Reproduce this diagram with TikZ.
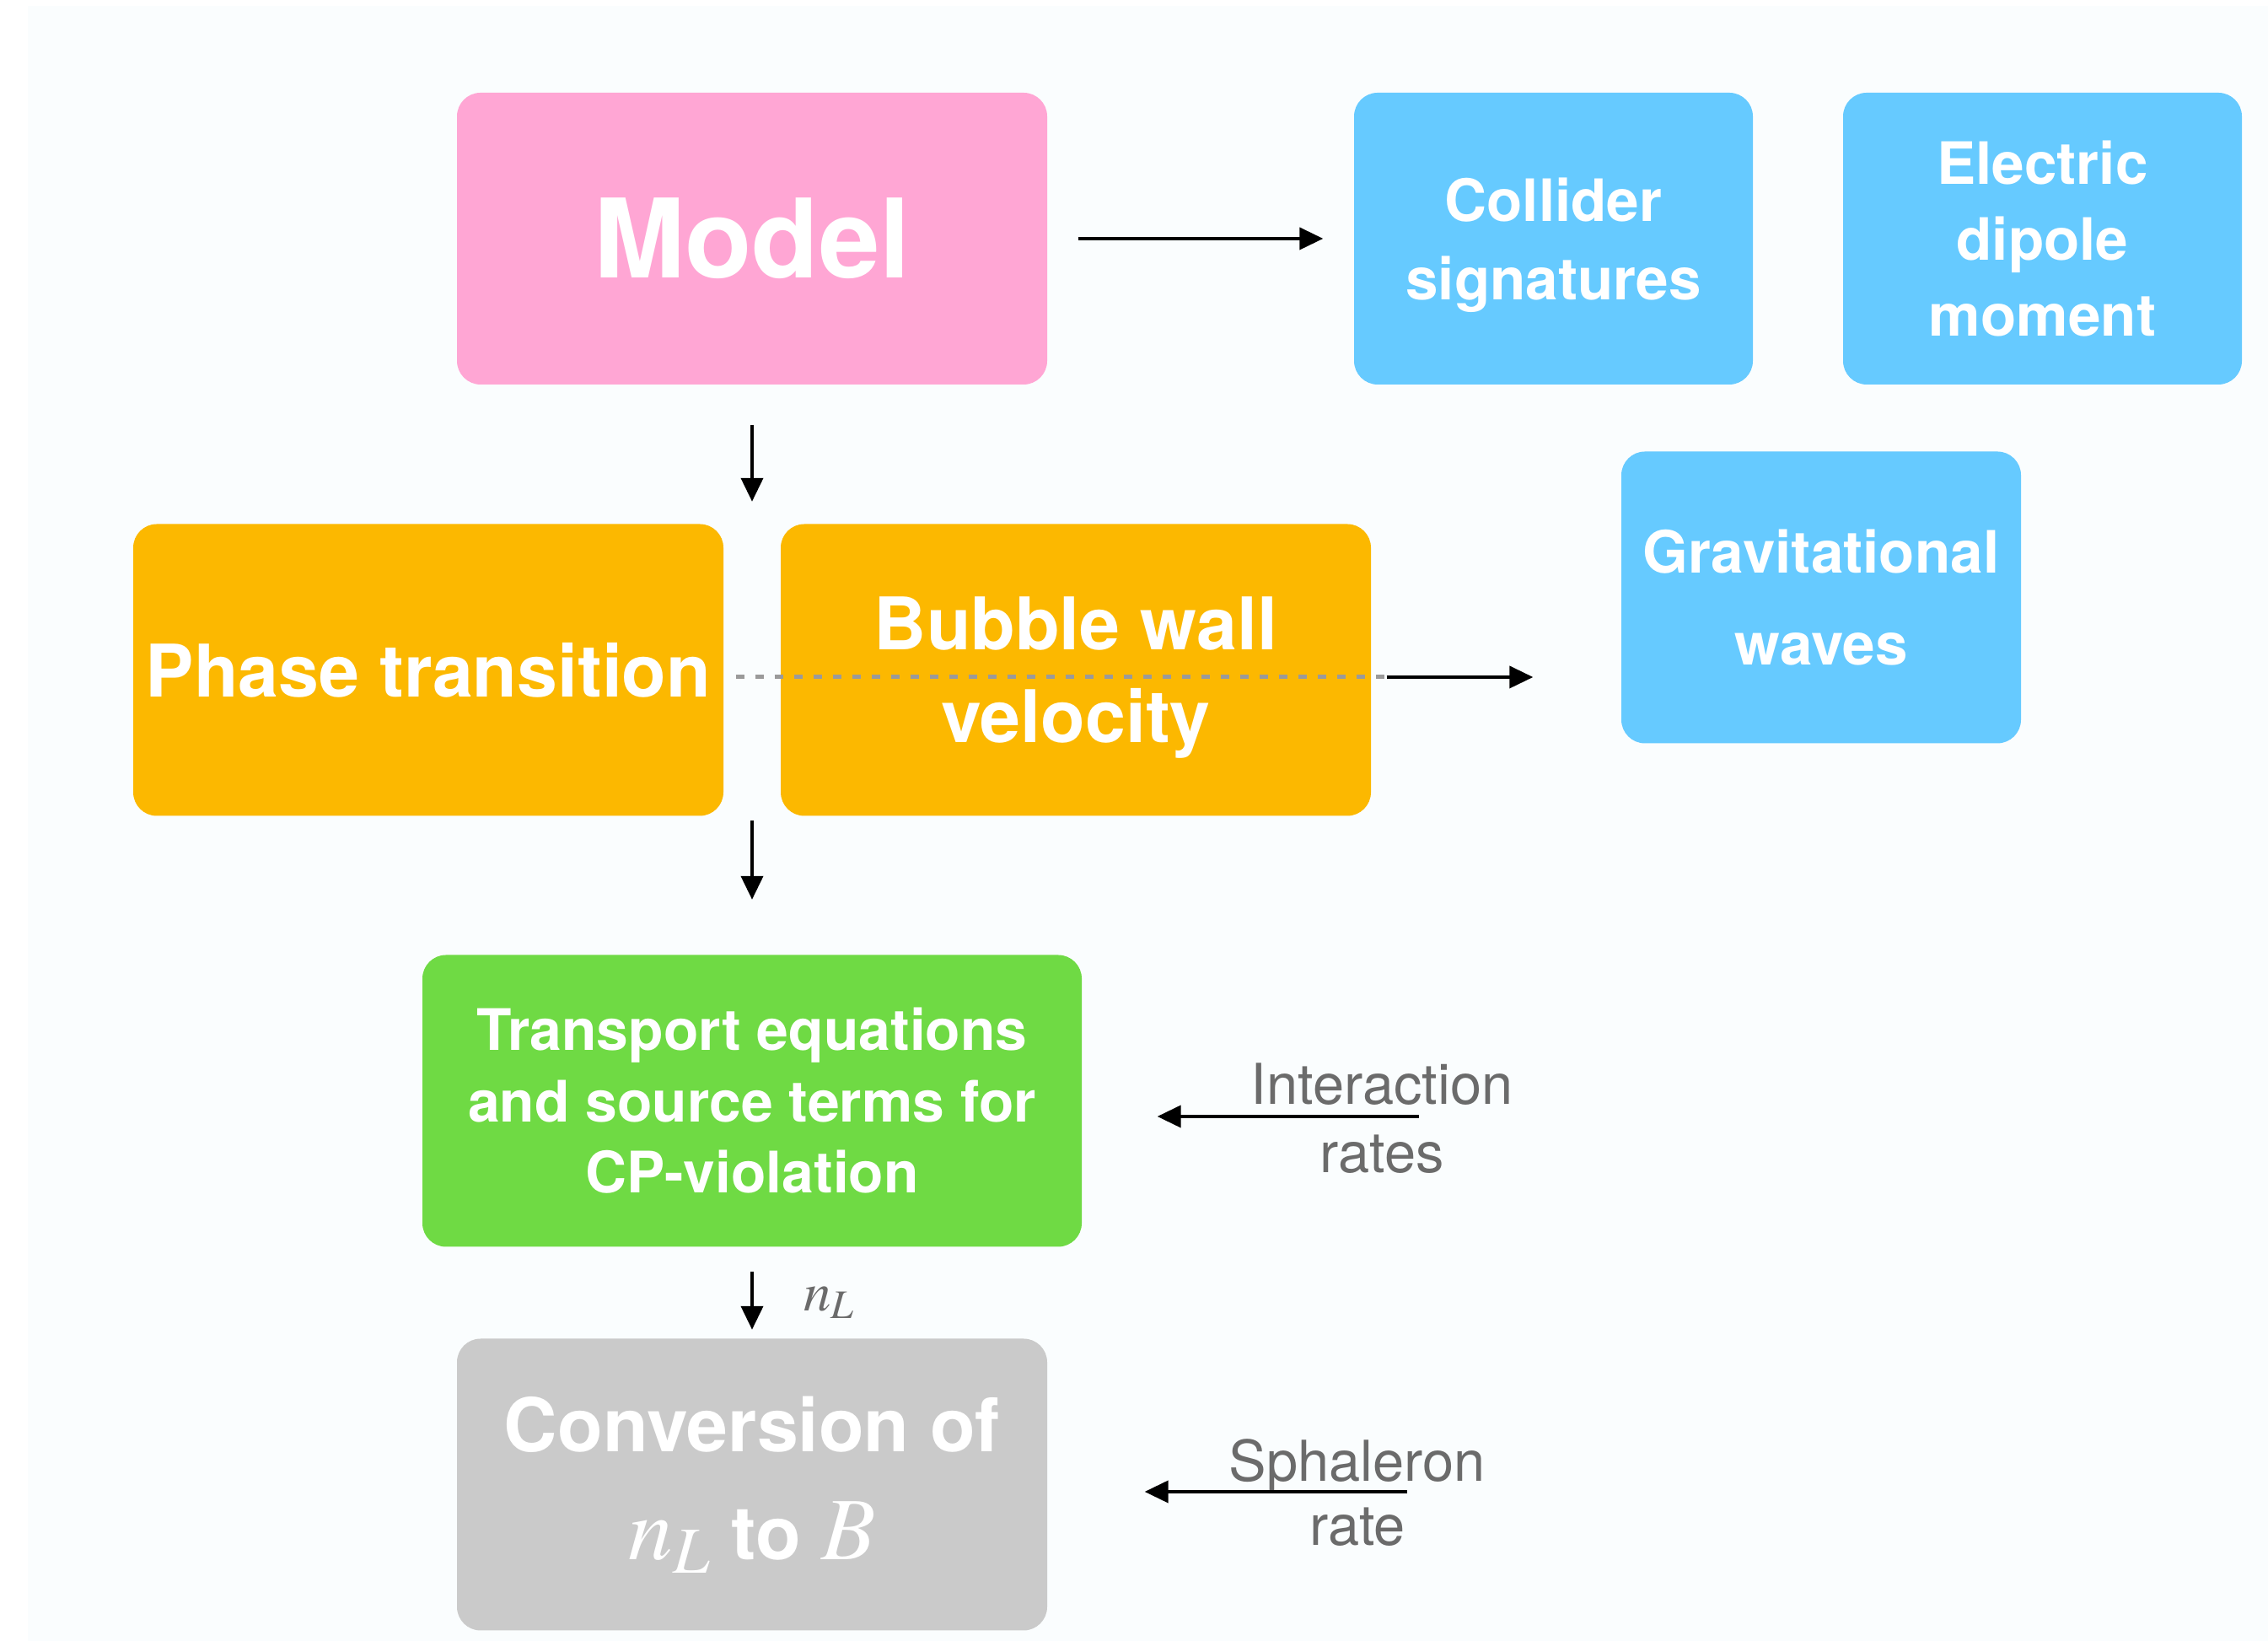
\documentclass[tikz,border=0pt]{standalone}
\usepackage{mathptmx}
\usepackage{fontspec}
\setmainfont{TeX Gyre Heros}
\usepackage{tikz}
\usetikzlibrary{calc,arrows.meta}

\definecolor{pinkbox}{HTML}{FFA6D4}
\definecolor{bluebox}{HTML}{66CAFF}
\definecolor{orangebox}{HTML}{FCB800}
\definecolor{greenbox}{HTML}{6FDA44}
\definecolor{graybox}{HTML}{CACACA}
\definecolor{paper}{HTML}{FAFDFE}
\definecolor{notegray}{HTML}{6B6B6B}
\definecolor{dotgray}{HTML}{9A9A9A}

\begin{document}
\begin{tikzpicture}[
	blk/.style={rounded corners=0.28cm, inner sep=0pt, text=white, align=center, minimum height=3.46cm},
	flow/.style={line width=0.04cm, -{Triangle[length=0.28cm,width=0.26cm]}},
	dotline/.style={draw=dotgray, line width=0.05cm, dash pattern=on 0.1cm off 0.13cm},
	note/.style={text=notegray, align=center, inner sep=0pt}
	]
			\useasboundingbox (0,0) rectangle (26.9,19.46);
			\fill[white] (0,0) rectangle (26.9,19.46);
			\fill[paper] (0.33,0) rectangle (26.9,19.39);
			
			\node[blk, fill=pinkbox, minimum width=7cm, font=\fontsize{37}{44}\selectfont\bfseries] (model) at (8.92,16.63) {Model};
			\node[blk, fill=bluebox, minimum width=4.73cm, text depth=0pt, font=\fontsize{19.7}{26.5}\selectfont\bfseries] (collider) at (18.425,16.63) {Collider\\signatures};
			\node[blk, fill=bluebox, minimum width=4.73cm, font=\fontsize{19.7}{25.5}\selectfont\bfseries] (edm) at (24.225,16.63) {Electric\\dipole\\moment};
			\node[blk, fill=bluebox, minimum width=4.74cm, font=\fontsize{19.7}{31}\selectfont\bfseries] (gw) at (21.6,12.375) {Gravitational\\waves};
			\node[blk, fill=orangebox, minimum width=7cm, font=\fontsize{24.5}{31}\selectfont\bfseries] (phase) at (5.08,11.515) {Phase transition};
			\node[blk, fill=orangebox, minimum width=7cm, text depth=0pt, font=\fontsize{24.5}{31.3}\selectfont\bfseries] (wall) at (12.76,11.515) {Bubble wall\\velocity};
			\node[blk, fill=greenbox, minimum width=7.82cm, font=\fontsize{19.3}{24}\selectfont\bfseries] (transport) at (8.92,6.405) {Transport equations\\and source terms for\\CP-violation};
			\node[blk, fill=graybox, minimum width=7cm, font=\fontsize{25}{36.4}\selectfont\bfseries] (conv) at (8.92,1.855) {Conversion of\\{\fontsize{30}{30}\selectfont$n_L$} to {\fontsize{30}{30}\selectfont$B$}};
			
			\node[note, font=\fontsize{19}{23}\selectfont] (intr) at (16.39,6.195) {Interaction\\rates};
			\node[note, font=\fontsize{19}{21.6}\selectfont] (sph) at (16.10,1.76) {Sphaleron\\rate};
			\coordinate (intrS) at (16.83,6.22);
			\coordinate (sphS) at (16.69,1.77);
			\coordinate (dotR) at ([yshift=-0.085cm]wall.east);
			
			\draw[flow, shorten <=0.36cm, shorten >=0.36cm] (model.east) -- (collider.west);
			\draw[flow, shorten <=0.47cm, shorten >=0.26cm] (model.south) -- (model.south |- phase.north);
			\draw[dotline, shorten <=0.14cm, shorten >=-0.18cm] ([yshift=-0.085cm]phase.east) -- (dotR);
			\draw[flow, shorten <=0.18cm, shorten >=1.04cm] (dotR) -- (dotR -| gw.west);
			\draw[flow, shorten <=0.05cm, shorten >=0.65cm] (model.south |- phase.south) -- (transport.north);
			\draw[flow, shorten <=0.29cm, shorten >=0.10cm] (transport.south) -- (conv.north)
				node[midway, right=0.59cm, yshift=-0.12cm, inner sep=0pt, text=notegray, font=\fontsize{18.5}{18.5}\selectfont] {$n_L$};
			\draw[flow, shorten >=0.89cm] (intrS) -- (intrS -| transport.east);
			\draw[flow, shorten >=1.15cm] (sphS) -- (sphS -| conv.east);
		\end{tikzpicture}
\end{document}
